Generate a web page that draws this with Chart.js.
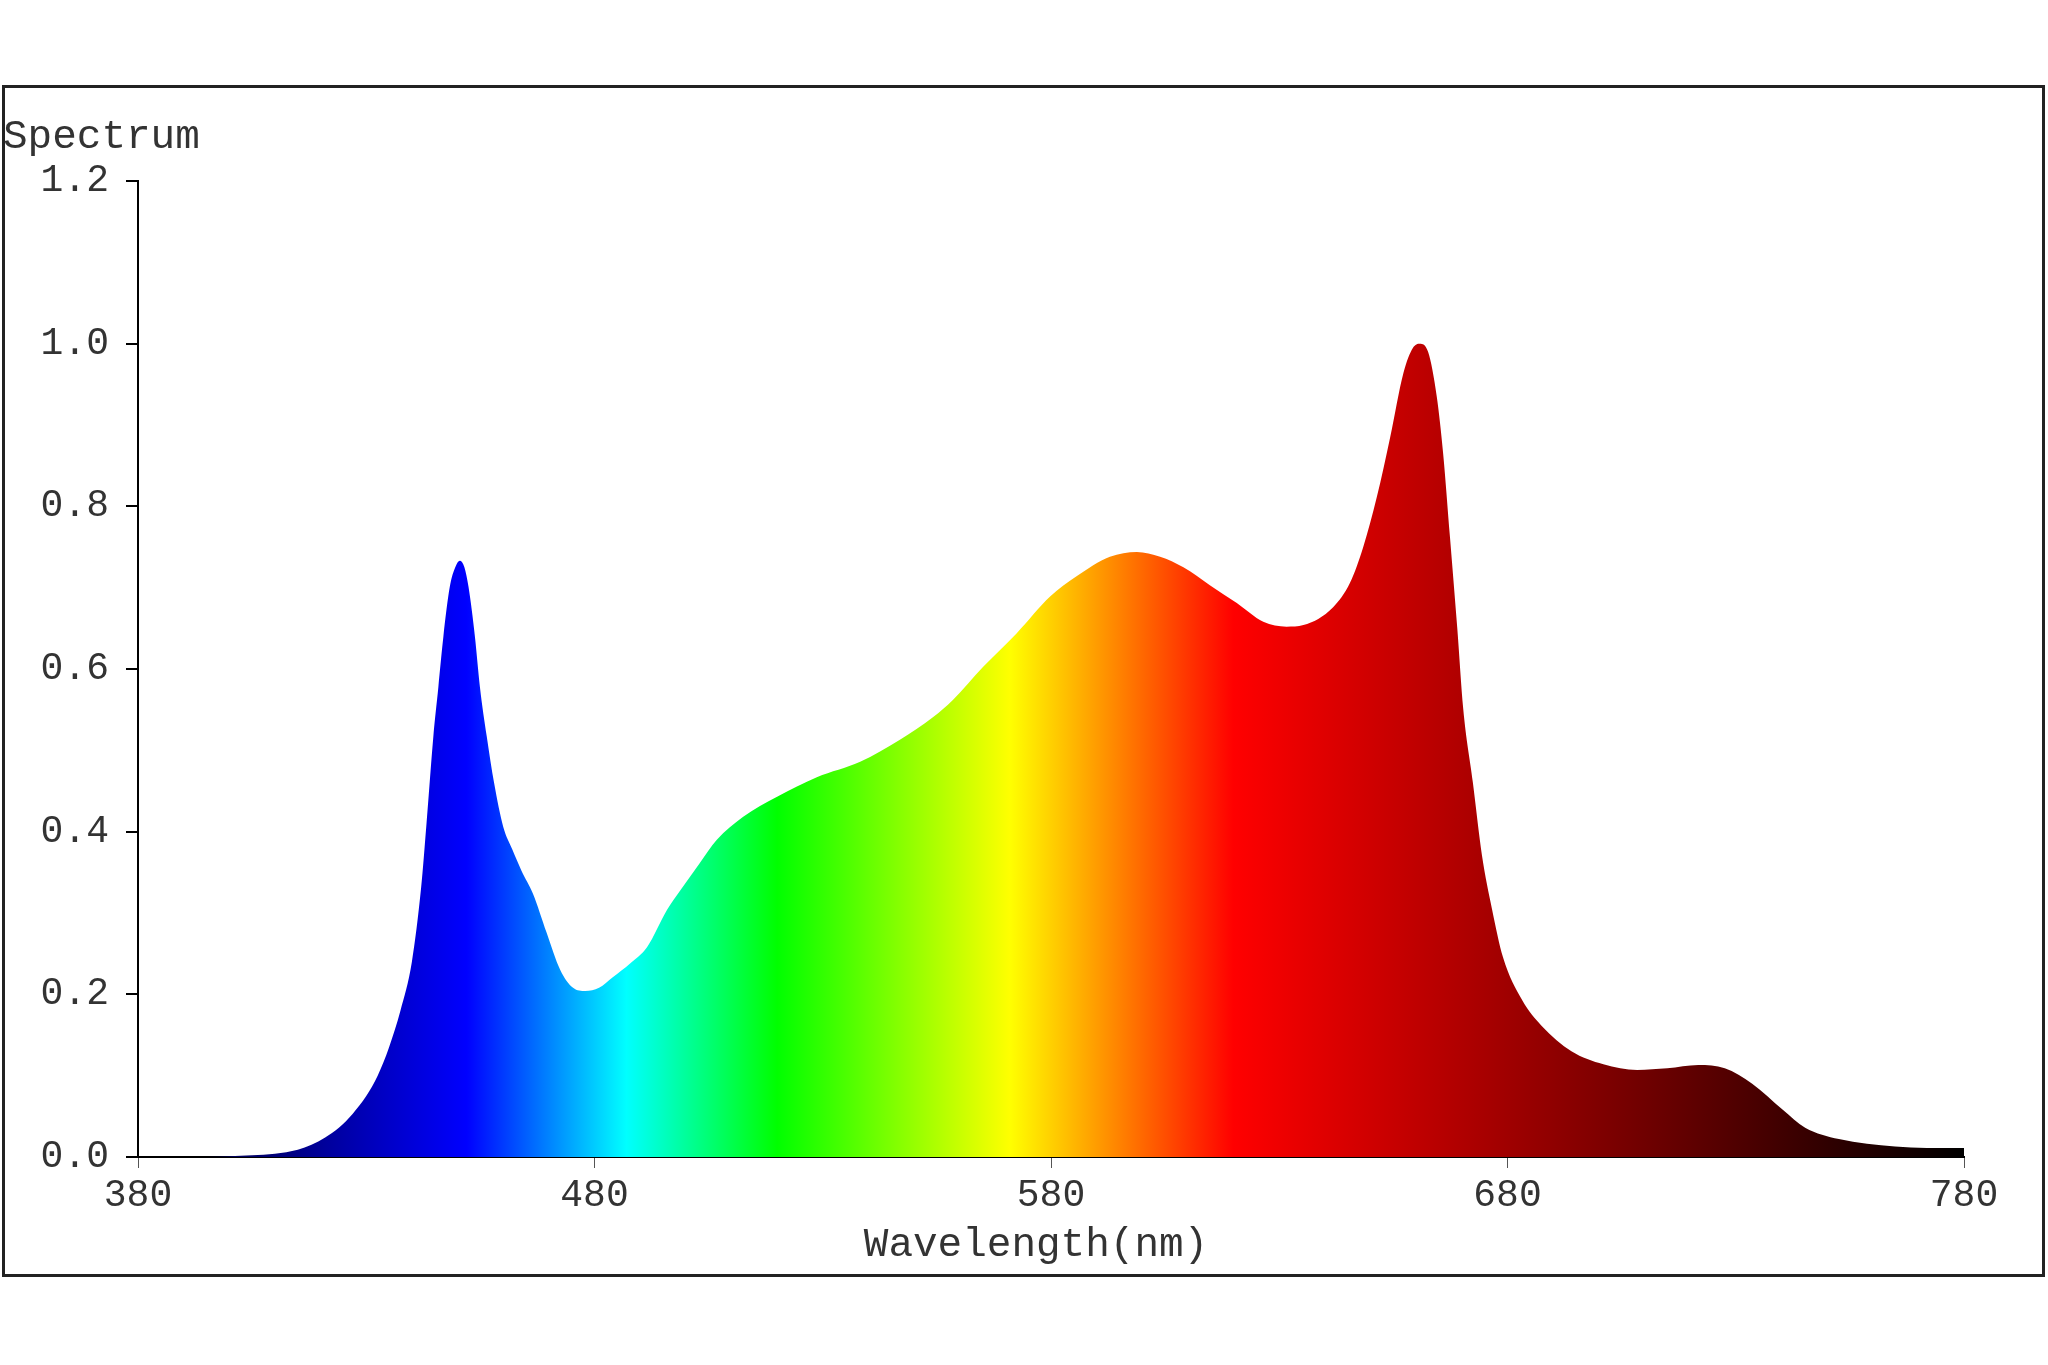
<!DOCTYPE html>
<html>
<head>
<meta charset="utf-8">
<script src="https://cdn.jsdelivr.net/npm/chart.js@4.4.0/dist/chart.umd.min.js"></script>
<style>
  html, body { margin: 0; padding: 0; background: #fff; }
  canvas { display: block; }
</style>
</head>
<body>
<canvas id="spectrum" width="2048" height="1365"></canvas>
<script>
// Spectrum (wavelength in nm, relative intensity)
const wavelengths = [
  380, 395, 400, 405, 410, 415, 418, 421, 424, 427, 430, 432.5, 435, 437.5,
  440, 442, 443.2, 444.7, 445.8, 446.9, 448.3, 449.5, 450.5, 451.5, 452.4,
  453.8, 454.9, 456.4, 458, 460, 462, 464, 466.5, 469.5, 472.5, 475.3, 478,
  481, 484, 487.8, 491.5, 495.9, 498.7, 503, 506.8, 512.5, 520, 528.7, 538.2,
  546.9, 554.2, 558.5, 565.2, 572.5, 579.8, 585.6, 592.9, 598.8, 603.9, 609,
  614.8, 620.7, 626.5, 631.6, 635.3, 641.8, 645.5, 648.4, 651.4, 654.3, 657.2,
  659.3, 660.8, 662.6, 664.5, 665.9, 667.4, 669, 670.3, 672.4, 674.4, 676.6,
  679, 683.2, 687.5, 694, 701, 708.4, 715, 721.8, 727.6, 733.6, 740.3, 745.2,
  752.6, 764.9, 778.8, 780
];
const intensity = [
  0, 0, 0.001, 0.002, 0.004, 0.009, 0.015, 0.024, 0.036, 0.053, 0.075, 0.1,
  0.135, 0.18, 0.24, 0.33, 0.41, 0.517, 0.578, 0.64, 0.701, 0.725, 0.733,
  0.725, 0.701, 0.64, 0.578, 0.517, 0.46, 0.406, 0.378, 0.352, 0.324, 0.276,
  0.23, 0.208, 0.204, 0.208, 0.221, 0.238, 0.258, 0.304, 0.327, 0.361, 0.39,
  0.418, 0.443, 0.467, 0.486, 0.513, 0.541, 0.562, 0.603, 0.644, 0.689, 0.714,
  0.738, 0.744, 0.738, 0.725, 0.703, 0.681, 0.658, 0.652, 0.654, 0.676, 0.706,
  0.75, 0.812, 0.885, 0.964, 0.995, 1.0, 0.99, 0.935, 0.865, 0.762, 0.65,
  0.551, 0.461, 0.371, 0.305, 0.246, 0.193, 0.161, 0.13, 0.114, 0.107, 0.109,
  0.113, 0.109, 0.09, 0.058, 0.036, 0.022, 0.013, 0.011, 0.011
];
const xTicks = [380, 480, 580, 680, 780];
const yTicks = [0.0, 0.2, 0.4, 0.6, 0.8, 1.0, 1.2];

// colour stops of the fill, by wavelength
const stopNm = [380, 452, 487, 520, 571, 620, 780];
const stopColors = ["#000018", "#0000ff", "#00ffff", "#00ff00", "#ffff00", "#ff0000", "#000000"];

const FONT = "'Liberation Mono', 'Courier New', monospace";

// fill colour follows the wavelength along the x scale
function spectrumFill(context) {
  const chart = context.chart;
  const area = chart.chartArea;
  if (!area) return "#0000ff";
  const x = chart.scales.x;
  const x0 = x.getPixelForValue(stopNm[0]);
  const x1 = x.getPixelForValue(stopNm[stopNm.length - 1]);
  const grad = chart.ctx.createLinearGradient(x0, 0, x1, 0);
  stopNm.forEach((nm, i) => {
    grad.addColorStop((nm - stopNm[0]) / (stopNm[stopNm.length - 1] - stopNm[0]), stopColors[i]);
  });
  return grad;
}

// white page, outer frame and the two free-standing labels
const framePlugin = {
  id: "frame",
  beforeDraw(chart) {
    const ctx = chart.ctx;
    ctx.save();
    ctx.fillStyle = "#fff";
    ctx.fillRect(0, 0, chart.width, chart.height);
    ctx.restore();
  },
  afterDraw(chart) {
    const ctx = chart.ctx;
    ctx.save();
    ctx.strokeStyle = "#222";
    ctx.lineWidth = 3;
    ctx.strokeRect(3.5, 86.5, 2040, 1189);
    ctx.fillStyle = "#333";
    ctx.font = "41px " + FONT;
    ctx.textBaseline = "alphabetic";
    ctx.textAlign = "left";
    ctx.fillText("Spectrum", 3, 148);
    ctx.textAlign = "center";
    ctx.fillText("Wavelength(nm)", 1036, 1256);
    ctx.restore();
  }
};

new Chart(document.getElementById("spectrum"), {
  type: "line",
  data: {
    datasets: [
      {
        data: wavelengths.map((w, i) => ({ x: w, y: intensity[i] })),
        fill: "origin",
        backgroundColor: spectrumFill,
        borderWidth: 0,
        pointRadius: 0,
        cubicInterpolationMode: "monotone",
      },
    ],
  },
  options: {
    responsive: false,
    animation: false,
    devicePixelRatio: 1,
    layout: { padding: { top: 181, right: 84, bottom: 0, left: 0 } },
    plugins: {
      legend: { display: false },
      tooltip: { enabled: false },
    },
    scales: {
      x: {
        type: "linear",
        min: xTicks[0],
        max: xTicks[xTicks.length - 1],
        afterFit: (scale) => { scale.height = 208; },
        afterBuildTicks: (scale) => { scale.ticks = xTicks.map((v) => ({ value: v })); },
        border: { display: true, color: "#000", width: 2 },
        grid: { drawOnChartArea: false, drawTicks: true, tickLength: 11, color: "#555", lineWidth: 1 },
        ticks: { padding: 5, color: "#333", font: { family: FONT, size: 38 } },
      },
      y: {
        min: 0,
        max: 1.2,
        afterFit: (scale) => { scale.width = 138; },
        afterBuildTicks: (scale) => { scale.ticks = yTicks.map((v) => ({ value: v })); },
        border: { display: true, color: "#000", width: 2 },
        grid: { drawOnChartArea: false, drawTicks: true, tickLength: 12, color: "#000", lineWidth: 2 },
        ticks: {
          padding: 17,
          color: "#333",
          font: { family: FONT, size: 38, lineHeight: 1.0 },
          callback: (v) => Number(v).toFixed(1),
        },
      },
    },
  },
  plugins: [framePlugin],
});
</script>
</body>
</html>
